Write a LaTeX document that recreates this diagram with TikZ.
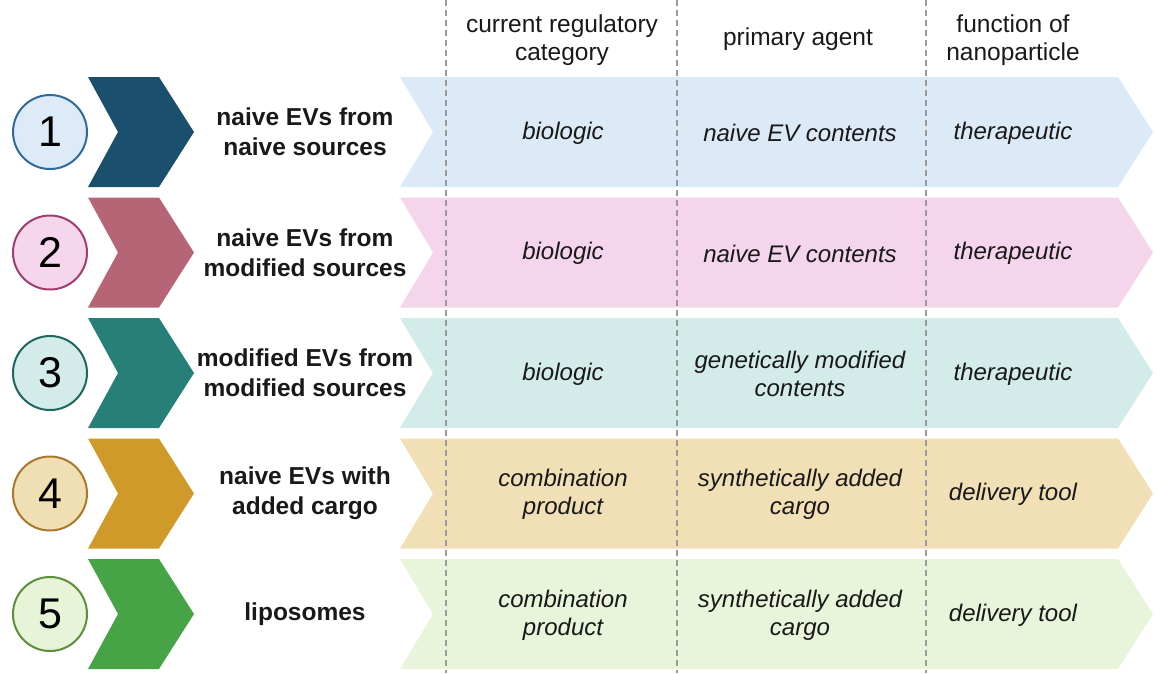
\documentclass[tikz,border=0pt]{standalone}
\usepackage{fontspec}
\setmainfont{Liberation Sans}
\definecolor{chA}{HTML}{1A4F6E}\definecolor{ciA}{HTML}{DDEBF8}\definecolor{bdA}{HTML}{2F6A9A}\definecolor{bnA}{HTML}{DCE9F7}
\definecolor{chB}{HTML}{B56576}\definecolor{ciB}{HTML}{F6D6EC}\definecolor{bdB}{HTML}{9E3D6E}\definecolor{bnB}{HTML}{F5D5EC}
\definecolor{chC}{HTML}{268077}\definecolor{ciC}{HTML}{D4ECE9}\definecolor{bdC}{HTML}{1F6660}\definecolor{bnC}{HTML}{D3ECE9}
\definecolor{chD}{HTML}{CF9A2A}\definecolor{ciD}{HTML}{F1DFB4}\definecolor{bdD}{HTML}{A8772C}\definecolor{bnD}{HTML}{F1DFB5}
\definecolor{chE}{HTML}{46A447}\definecolor{ciE}{HTML}{E8F4D8}\definecolor{bdE}{HTML}{5E8E3B}\definecolor{bnE}{HTML}{E9F5DA}
\definecolor{dashgrey}{HTML}{9A9A9A}
\tikzset{
  hdr/.style={font=\fontsize{24.5}{28}\selectfont, align=center, text=black!90},
  lbl/.style={font=\fontsize{24.5}{30}\selectfont\bfseries, align=center, text=black!90},
  cell/.style={font=\fontsize{24}{28}\selectfont\itshape, align=center, text=black!90},
  num/.style={circle, minimum size=74pt, inner sep=0pt, line width=2pt, font=\fontsize{43}{43}\selectfont},
  sep/.style={draw=dashgrey, line width=1.2pt, dash pattern=on 6pt off 4pt},
}
\begin{document}
\begin{tikzpicture}[x=1pt,y=-1pt]
\useasboundingbox (0,0) rectangle (1157,673);
% rows
\foreach \t/\ch/\ci/\bd/\bn/\n/\lab/\ca/\cb/\cc [count=\i] in {
  77/chA/ciA/bdA/bnA/1/{naive EVs from\\naive sources}/{biologic}/{naive EV contents}/{therapeutic},
  197.5/chB/ciB/bdB/bnB/2/{naive EVs from\\modified sources}/{biologic}/{naive EV contents}/{therapeutic},
  318/chC/ciC/bdC/bnC/3/{modified EVs from\\modified sources}/{biologic}/{genetically modified\\contents}/{therapeutic},
  438.5/chD/ciD/bdD/bnD/4/{naive EVs with\\added cargo}/{combination\\product}/{synthetically added\\cargo}/{delivery tool},
  559/chE/ciE/bdE/bnE/5/{liposomes}/{combination\\product}/{synthetically added\\cargo}/{delivery tool}}{
  \fill[\bn] (400,\t) -- (1118,\t) -- (1153,\t+55) -- (1118,\t+110) -- (400,\t+110) -- (433,\t+55) -- cycle;
  \fill[\ch] (88,\t) -- (159,\t) -- (194,\t+55) -- (159,\t+110) -- (88,\t+110) -- (118,\t+55) -- cycle;
  \node[num, draw=\bd, fill=\ci] (circ\i) at (50,\t+55) {\n};
  \node[lbl] (lab\i) at (305,\t+55) {\lab};
  \node[cell] (cat\i) at (563,\t+56) {\ca};
  \node[cell] (agt\i) at (800,\t+56) {\cb};
  \node[cell] (fun\i) at (1013,\t+56) {\cc};
}
% dashed separators
\draw[sep] (446,0) -- (446,673);
\draw[sep] (677,0) -- (677,673);
\draw[sep] (926,0) -- (926,673);
% headers
\node[hdr] (h1) at (562,40) {current regulatory\\category};
\node[hdr] (h2) at (798,39) {primary agent};
\node[hdr] (h3) at (1013,40) {function of\\nanoparticle};
\end{tikzpicture}
\end{document}
